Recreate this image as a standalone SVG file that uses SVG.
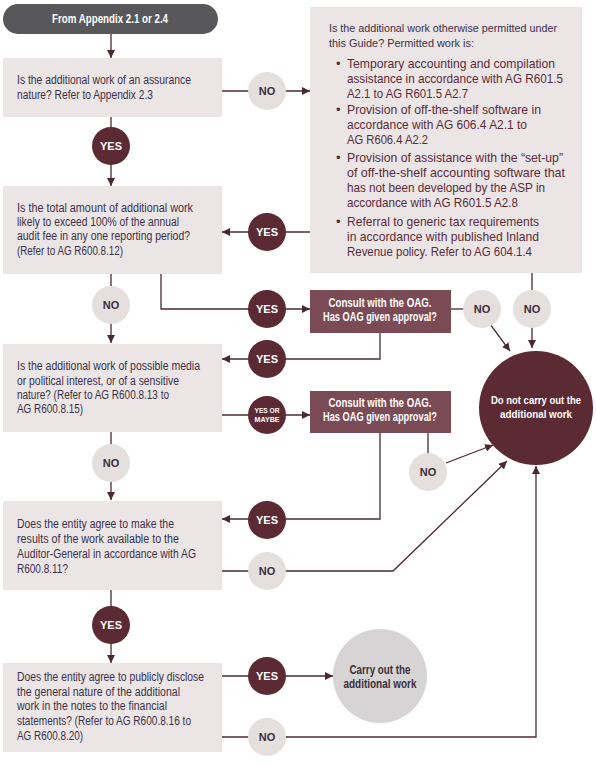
<svg xmlns="http://www.w3.org/2000/svg" width="596" height="766" viewBox="0 0 596 766">
<defs>
<marker id="ah" markerUnits="userSpaceOnUse" markerWidth="8" markerHeight="8" refX="8" refY="4" orient="auto">
<path d="M0,0 L8,4 L0,8 z" fill="#4a2a30"/>
</marker>
<style>
.ln{fill:none;stroke:#4a2a30;stroke-width:1.3}
.box{fill:#ebe6e5}
.q{font-family:"Liberation Sans",Arial,sans-serif;font-size:12px;fill:#3b2f4a}
.hd{font-family:"Liberation Sans",Arial,sans-serif;font-size:11px;fill:#3b2f4a}
.bl{font-family:"Liberation Sans",Arial,sans-serif;font-size:13px;fill:#5b2a3a}
.yes{fill:#5b2a33}
.no{fill:#e5dfde}
.lb{font-family:"Liberation Sans",Arial,sans-serif;font-size:11px;font-weight:bold;text-anchor:middle}
.lw{fill:#ffffff}
.ld{fill:#3b2f3a}
.wt{font-family:"Liberation Sans",Arial,sans-serif;font-size:12px;font-weight:bold;fill:#ffffff;text-anchor:middle}
</style>
</defs>
<rect width="596" height="766" fill="#ffffff"/>

<g id="connectors">
<path class="ln" d="M111,34 V58" marker-end="url(#ah)"/>
<path class="ln" d="M222,91 H310" marker-end="url(#ah)"/>
<path class="ln" d="M111,117 V186" marker-end="url(#ah)"/>
<path class="ln" d="M310,232 H222" marker-end="url(#ah)"/>
<path class="ln" d="M111,274 V343" marker-end="url(#ah)"/>
<path class="ln" d="M161,274 V309 H310" marker-end="url(#ah)"/>
<path class="ln" d="M380,333 V359 H222" marker-end="url(#ah)"/>
<path class="ln" d="M451,309 H482"/>
<path class="ln" d="M490,324 L510,351" marker-end="url(#ah)"/>
<path class="ln" d="M532,273 V348" marker-end="url(#ah)"/>
<path class="ln" d="M222,415 H310" marker-end="url(#ah)"/>
<path class="ln" d="M380,433 V519 H222" marker-end="url(#ah)"/>
<path class="ln" d="M428,433 V472"/>
<path class="ln" d="M446,463 L493,445" marker-end="url(#ah)"/>
<path class="ln" d="M111,432 V500" marker-end="url(#ah)"/>
<path class="ln" d="M222,571 H393 L507,461" marker-end="url(#ah)"/>
<path class="ln" d="M111,590 V663" marker-end="url(#ah)"/>
<path class="ln" d="M222,676 H333" marker-end="url(#ah)"/>
<path class="ln" d="M222,737 H536 V466" marker-end="url(#ah)"/>
</g>

<g id="start">
<rect x="3" y="4" width="215" height="30" rx="15" fill="#58585a"/>
<text class="wt" x="110" y="23" textLength="116" lengthAdjust="spacingAndGlyphs">From Appendix 2.1 or 2.4</text>
</g>

<g id="q1">
<rect class="box" x="3" y="58" width="219" height="59"/>
<text class="q" x="17" y="84" textLength="174" lengthAdjust="spacingAndGlyphs">Is the additional work of an assurance</text>
<text class="q" x="17" y="99" textLength="136" lengthAdjust="spacingAndGlyphs">nature? Refer to Appendix 2.3</text>
</g>

<g id="permitted">
<rect class="box" x="310" y="7" width="272" height="266"/>
<text class="hd" x="329" y="32" textLength="228" lengthAdjust="spacingAndGlyphs">Is the additional work otherwise permitted under</text>
<text class="hd" x="329" y="47" textLength="145" lengthAdjust="spacingAndGlyphs">this Guide? Permitted work is:</text>
<text class="bl" x="336" y="68">•</text>
<text class="bl" x="347" y="68" textLength="208" lengthAdjust="spacingAndGlyphs">Temporary accounting and compilation</text>
<text class="bl" x="347" y="83" textLength="216" lengthAdjust="spacingAndGlyphs">assistance in accordance with AG R601.5</text>
<text class="bl" x="347" y="98" textLength="121" lengthAdjust="spacingAndGlyphs">A2.1 to AG R601.5 A2.7</text>
<text class="bl" x="336" y="114">•</text>
<text class="bl" x="347" y="114" textLength="194" lengthAdjust="spacingAndGlyphs">Provision of off-the-shelf software in</text>
<text class="bl" x="347" y="129" textLength="180" lengthAdjust="spacingAndGlyphs">accordance with AG 606.4 A2.1 to</text>
<text class="bl" x="347" y="144" textLength="81" lengthAdjust="spacingAndGlyphs">AG R606.4 A2.2</text>
<text class="bl" x="336" y="162">•</text>
<text class="bl" x="347" y="162" textLength="216" lengthAdjust="spacingAndGlyphs">Provision of assistance with the “set-up”</text>
<text class="bl" x="347" y="177" textLength="218" lengthAdjust="spacingAndGlyphs">of off-the-shelf accounting software that</text>
<text class="bl" x="347" y="192" textLength="198" lengthAdjust="spacingAndGlyphs">has not been developed by the ASP in</text>
<text class="bl" x="347" y="207" textLength="171" lengthAdjust="spacingAndGlyphs">accordance with AG R601.5 A2.8</text>
<text class="bl" x="336" y="226">•</text>
<text class="bl" x="347" y="226" textLength="192" lengthAdjust="spacingAndGlyphs">Referral to generic tax requirements</text>
<text class="bl" x="347" y="241" textLength="192" lengthAdjust="spacingAndGlyphs">in accordance with published Inland</text>
<text class="bl" x="347" y="256" textLength="185" lengthAdjust="spacingAndGlyphs">Revenue policy. Refer to AG 604.1.4</text>
</g>

<g id="q2">
<rect class="box" x="3" y="186" width="219" height="88"/>
<text class="q" x="17" y="212" textLength="176" lengthAdjust="spacingAndGlyphs">Is the total amount of additional work</text>
<text class="q" x="17" y="226" textLength="162" lengthAdjust="spacingAndGlyphs">likely to exceed 100% of the annual</text>
<text class="q" x="17" y="240" textLength="173" lengthAdjust="spacingAndGlyphs">audit fee in any one reporting period?</text>
<text class="q" x="17" y="255" textLength="106" lengthAdjust="spacingAndGlyphs">(Refer to AG R600.8.12)</text>
</g>

<g id="q3">
<rect class="box" x="3" y="344" width="219" height="88"/>
<text class="q" x="17" y="370" textLength="183" lengthAdjust="spacingAndGlyphs">Is the additional work of possible media</text>
<text class="q" x="17" y="385" textLength="162" lengthAdjust="spacingAndGlyphs">or political interest, or of a sensitive</text>
<text class="q" x="17" y="399" textLength="152" lengthAdjust="spacingAndGlyphs">nature? (Refer to AG R600.8.13 to</text>
<text class="q" x="17" y="413" textLength="66" lengthAdjust="spacingAndGlyphs">AG R600.8.15)</text>
</g>

<g id="q4">
<rect class="box" x="3" y="501" width="219" height="89"/>
<text class="q" x="17" y="528" textLength="157" lengthAdjust="spacingAndGlyphs">Does the entity agree to make the</text>
<text class="q" x="17" y="543" textLength="162" lengthAdjust="spacingAndGlyphs">results of the work available to the</text>
<text class="q" x="17" y="558" textLength="179" lengthAdjust="spacingAndGlyphs">Auditor-General in accordance with AG</text>
<text class="q" x="17" y="573" textLength="51" lengthAdjust="spacingAndGlyphs">R600.8.11?</text>
</g>

<g id="q5">
<rect class="box" x="3" y="663" width="219" height="89"/>
<text class="q" x="17" y="681" textLength="187" lengthAdjust="spacingAndGlyphs">Does the entity agree to publicly disclose</text>
<text class="q" x="17" y="696" textLength="163" lengthAdjust="spacingAndGlyphs">the general nature of the additional</text>
<text class="q" x="17" y="710" textLength="150" lengthAdjust="spacingAndGlyphs">work in the notes to the financial</text>
<text class="q" x="17" y="725" textLength="174" lengthAdjust="spacingAndGlyphs">statements? (Refer to AG R600.8.16 to</text>
<text class="q" x="17" y="740" textLength="66" lengthAdjust="spacingAndGlyphs">AG R600.8.20)</text>
</g>

<g id="consult1">
<rect x="310" y="290" width="141" height="43" fill="#7a4a55"/>
<text class="wt" x="380" y="307" textLength="103" lengthAdjust="spacingAndGlyphs">Consult with the OAG.</text>
<text class="wt" x="380" y="321" textLength="114" lengthAdjust="spacingAndGlyphs">Has OAG given approval?</text>
</g>

<g id="consult2">
<rect x="310" y="391" width="141" height="42" fill="#7a4a55"/>
<text class="wt" x="380" y="407" textLength="103" lengthAdjust="spacingAndGlyphs">Consult with the OAG.</text>
<text class="wt" x="380" y="421" textLength="114" lengthAdjust="spacingAndGlyphs">Has OAG given approval?</text>
</g>

<g id="stop">
<circle cx="536" cy="408" r="57" fill="#5b2a33"/>
<text class="wt" x="536" y="404" style="font-size:11.5px" textLength="90" lengthAdjust="spacingAndGlyphs">Do not carry out the</text>
<text class="wt" x="536" y="418" style="font-size:11.5px" textLength="72" lengthAdjust="spacingAndGlyphs">additional work</text>
</g>

<g id="carry">
<circle cx="380" cy="676" r="47" fill="#d6d4d5"/>
<text class="wt" x="380" y="674" style="fill:#3b2f3a" textLength="61" lengthAdjust="spacingAndGlyphs">Carry out the</text>
<text class="wt" x="380" y="688" style="fill:#3b2f3a" textLength="73" lengthAdjust="spacingAndGlyphs">additional work</text>
</g>

<g id="lbl-no1"><circle class="no" cx="267" cy="91" r="19"/><text class="lb ld" x="267" y="95">NO</text></g>
<g id="lbl-yes1"><circle class="yes" cx="111" cy="146" r="19"/><text class="lb lw" x="111" y="150">YES</text></g>
<g id="lbl-yes2"><circle class="yes" cx="267" cy="232" r="19"/><text class="lb lw" x="267" y="236">YES</text></g>
<g id="lbl-no2"><circle class="no" cx="111" cy="305" r="19"/><text class="lb ld" x="111" y="309">NO</text></g>
<g id="lbl-yes3"><circle class="yes" cx="267" cy="309" r="19"/><text class="lb lw" x="267" y="313">YES</text></g>
<g id="lbl-no3"><circle class="no" cx="482" cy="309" r="19"/><text class="lb ld" x="482" y="313">NO</text></g>
<g id="lbl-no4"><circle class="no" cx="532" cy="309" r="19"/><text class="lb ld" x="532" y="313">NO</text></g>
<g id="lbl-yes4"><circle class="yes" cx="267" cy="359" r="19"/><text class="lb lw" x="267" y="363">YES</text></g>
<g id="lbl-yesmaybe"><circle class="yes" cx="267" cy="415" r="19"/><text class="lb lw" x="267" y="413" style="font-size:8px" textLength="25" lengthAdjust="spacingAndGlyphs">YES OR</text><text class="lb lw" x="267" y="422" style="font-size:8px" textLength="25" lengthAdjust="spacingAndGlyphs">MAYBE</text></g>
<g id="lbl-no5"><circle class="no" cx="111" cy="463" r="19"/><text class="lb ld" x="111" y="467">NO</text></g>
<g id="lbl-no6"><circle class="no" cx="428" cy="472" r="19"/><text class="lb ld" x="428" y="476">NO</text></g>
<g id="lbl-yes5"><circle class="yes" cx="267" cy="520" r="19"/><text class="lb lw" x="267" y="524">YES</text></g>
<g id="lbl-no7"><circle class="no" cx="267" cy="571" r="19"/><text class="lb ld" x="267" y="575">NO</text></g>
<g id="lbl-yes6"><circle class="yes" cx="111" cy="625" r="19"/><text class="lb lw" x="111" y="629">YES</text></g>
<g id="lbl-yes7"><circle class="yes" cx="267" cy="676" r="19"/><text class="lb lw" x="267" y="680">YES</text></g>
<g id="lbl-no8"><circle class="no" cx="267" cy="737" r="19"/><text class="lb ld" x="267" y="741">NO</text></g>
</svg>
